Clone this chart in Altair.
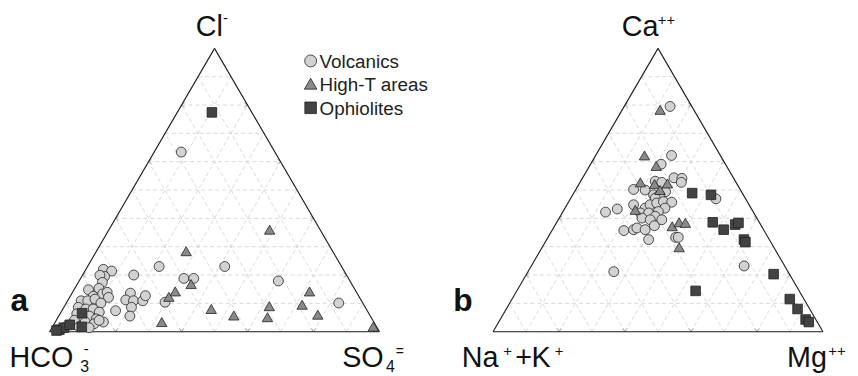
import altair as alt
import pandas as pd

# ---------------- data (percent) ----------------
groups = ["Volcanics", "High-T areas", "Ophiolites"]

# Panel a (anions): Cl- top, SO4= right, HCO3- left (= 100 - Cl - SO4)
a_volc_cl = [63.4, 23.0, 23.0, 17.9, 20.0, 18.8, 18.8, 10.4, 10.1,
             13.6, 11.2, 10.9, 8.6, 5.5, 10.9, 12.7, 7.4,
             22.0, 21.4, 19.5, 19.9, 17.4, 14.8, 15.3, 12.5, 13.3, 13.9, 12.1,
             10.9, 10.9, 11.5, 10.1, 8.6, 8.0, 8.0, 6.9, 6.3, 5.1, 5.5, 4.5,
             3.4, 4.0, 3.4, 2.8, 4.0, 2.4, 1.7, 1.4, 1.7]
a_volc_so4 = [8.2, 21.7, 41.6, 60.4, 15.5, 31.3, 34.3, 29.8, 82.6,
              17.7, 17.5, 20.0, 20.5, 21.6, 22.8, 22.7, 16.3,
              5.3, 8.1, 6.9, 5.3, 7.3, 4.4, 7.3, 7.0, 9.4, 10.5, 11.8,
              4.1, 6.1, 8.0, 10.5, 4.4, 7.0, 9.2, 11.6, 5.1, 7.5, 9.3, 11.9,
              14.6, 5.5, 9.1, 12.1, 13.0, 4.8, 8.1, 11.3, 4.0]
a_high_cl = [36.0, 28.4, 16.8, 14.2, 12.3, 3.4, 8.0, 5.7, 9.0, 5.1, 14.2, 9.5, 6.0, 1.8]
a_high_so4 = [48.7, 27.2, 34.5, 31.0, 30.0, 32.3, 45.0, 53.0, 62.1, 63.5, 71.7, 71.8, 78.3, 97.2]
a_ophi_cl = [77.4, 6.5, 0.7, 1.4, 2.4, 1.7, 0.4]
a_ophi_so4 = [10.5, 6.6, 2.6, 3.6, 4.9, 8.9, 1.9]

# Panel b (cations): Ca++ top, Mg++ right, Na+ + K+ left (= 100 - Ca - Mg)
b_volc_ca = [79.5, 62.2, 59.1, 54.3, 54.1, 52.7, 53.1, 52.7, 50.2, 50.0,
             49.4, 48.3, 48.3, 47.1, 42.2, 43.3, 44.8, 43.6, 44.8, 45.4,
             45.9, 45.7, 43.6, 41.9, 41.9, 42.4, 40.7, 40.1, 39.5, 39.5,
             35.7, 36.0, 36.6, 36.0, 37.4, 32.5, 33.3, 33.3, 21.2, 46.9, 23.2]
b_volc_mg = [13.9, 23.0, 21.4, 27.7, 30.2, 30.7, 22.6, 24.8, 17.5, 21.1,
             27.6, 24.5, 26.3, 25.6, 13.0, 16.0, 20.2, 24.3, 25.2, 26.9,
             28.7, 31.3, 30.3, 23.7, 26.2, 28.9, 28.8, 25.1, 27.9, 31.4,
             21.8, 24.6, 25.3, 28.1, 30.2, 30.9, 38.7, 39.5, 26.0, 44.1, 64.5]
b_high_ca = [78.3, 62.2, 58.5, 52.7, 52.1, 52.3, 50.0, 43.0, 37.2, 38.6, 38.4, 29.8]
b_high_mg = [11.5, 14.8, 20.2, 18.3, 22.9, 26.7, 25.6, 21.6, 35.7, 37.1, 39.1, 41.5]
b_ophi_ca = [48.9, 48.3, 38.6, 36.0, 37.8, 38.4, 32.5, 31.6, 20.3, 14.4, 11.5, 8.0, 4.3, 3.4]
b_ophi_mg = [35.9, 41.9, 47.3, 51.9, 54.5, 55.2, 59.8, 60.7, 74.9, 54.2, 84.2, 88.3, 92.6, 94.0]

grid_fracs = [0.1, 0.2, 0.3, 0.4, 0.5, 0.6, 0.7, 0.8, 0.9]
tick_fracs = [0.2, 0.4, 0.6, 0.8]

# ---------------- layout ----------------
W, H = 850, 368
XMIN, XMAX = -0.12613, 2.42643
YMIN, YMAX = -0.15035, 1.13636
OFFSETS = [0.0, 1.3444]          # horizontal position of panel a and panel b
FONT = "Liberation Sans"

xs = alt.Scale(domain=[XMIN, XMAX], nice=False, zero=False)
ys = alt.Scale(domain=[YMIN, YMAX], nice=False, zero=False)


def tern(top, right, off):
    """ternary (top %, right %) -> plot coordinates"""
    return pd.DataFrame({
        "x": [off + (r + t / 2.0) / 100.0 for t, r in zip(top, right)],
        "y": [t / 100.0 for t in top],
    })


# grid segments
rows = []
for off in OFFSETS:
    for f in grid_fracs:
        rows.append(dict(x=off + f / 2, y=f, x2=off + 1 - f / 2, y2=f))
        rows.append(dict(x=off + f, y=0, x2=off + f + (1 - f) / 2, y2=1 - f))
        rows.append(dict(x=off + 1 - f, y=0, x2=off + (1 - f) / 2, y2=1 - f))
grid_df = pd.DataFrame(rows)

edge_rows = []
for off in OFFSETS:
    edge_rows += [dict(x=off, y=0, x2=off + 1, y2=0),
                  dict(x=off, y=0, x2=off + 0.5, y2=1),
                  dict(x=off + 1, y=0, x2=off + 0.5, y2=1)]
edge_df = pd.DataFrame(edge_rows)

tick_rows = []
for off in OFFSETS:
    for f in tick_fracs:
        tick_rows.append(dict(x=off + f / 2, y=f, ang=180))
        tick_rows.append(dict(x=off + 1 - f / 2, y=f, ang=0))
        tick_rows.append(dict(x=off + f, y=0, ang=90))
tick_df = pd.DataFrame(tick_rows)


def seg(df, **kw):
    return alt.Chart(df).mark_rule(**kw).encode(
        x=alt.X("x:Q", scale=xs, axis=None), y=alt.Y("y:Q", scale=ys, axis=None),
        x2="x2:Q", y2="y2:Q")


grid = seg(grid_df, color="#cfcfcf", strokeWidth=0.8, strokeDash=[4, 3])
edges = seg(edge_df, color="#1a1a1a", strokeWidth=1.1)
ticks = alt.Chart(tick_df).mark_point(
    shape="M-1,-0.75L0,0L-1,0.75", filled=False, color="#777", strokeWidth=0.9, size=40
).encode(x=alt.X("x:Q", scale=xs, axis=None), y=alt.Y("y:Q", scale=ys, axis=None),
         angle=alt.Angle("ang:Q", scale=None))

STY = {
    "Volcanics": dict(shape="circle", fill="#d2d2d2", size=100),
    "High-T areas": dict(shape="triangle-up", fill="#8a8a8a", size=110),
    "Ophiolites": dict(shape="square", fill="#434343", size=94),
}


def pts(df, g):
    s = STY[g]
    return alt.Chart(df).mark_point(
        shape=s["shape"], filled=True, fill=s["fill"], stroke="#222", strokeWidth=0.8,
        size=s["size"], opacity=1
    ).encode(x=alt.X("x:Q", scale=xs, axis=None), y=alt.Y("y:Q", scale=ys, axis=None))


data_layers = []
for (top_a, right_a, top_b, right_b, g) in [
    (a_volc_cl, a_volc_so4, b_volc_ca, b_volc_mg, "Volcanics"),
    (a_high_cl, a_high_so4, b_high_ca, b_high_mg, "High-T areas"),
    (a_ophi_cl, a_ophi_so4, b_ophi_ca, b_ophi_mg, "Ophiolites"),
]:
    data_layers.append(pts(tern(top_a, right_a, OFFSETS[0]), g))
    data_layers.append(pts(tern(top_b, right_b, OFFSETS[1]), g))

# legend (pixel positions)
leg_y = [51.7, 74.7, 99.0]
leg_layers = []
for g, yy in zip(groups, leg_y):
    s = STY[g]
    leg_layers.append(
        alt.Chart(pd.DataFrame({"px": [305.5], "py": [yy]})).mark_point(
            shape=s["shape"], filled=True, fill=s["fill"], stroke="#222", strokeWidth=0.8,
            size=s["size"] * 1.45, opacity=1
        ).encode(x=alt.X("px:Q", scale=None), y=alt.Y("py:Q", scale=None)))
leg_text = pd.DataFrame({"t": groups, "px": [314.5] * 3, "py": [58.5, 82, 106]})
leg_layers.append(alt.Chart(leg_text).mark_text(
    align="left", baseline="alphabetic", font=FONT, fontSize=19, color="#222"
).encode(x=alt.X("px:Q", scale=None), y=alt.Y("py:Q", scale=None), text="t:N"))

# vertex labels (with sub/superscripts as separate text pieces)
lab = pd.DataFrame([
    ("Cl", 189.5, 26.5, 29), ("-", 217, 13.3, 15),
    ("Ca", 619.5, 26.5, 29), ("++", 656, 15.6, 15),
    ("HCO", 1.5, 361, 29), ("3", 73, 365.5, 16), ("-", 76.5, 347.7, 15),
    ("SO", 337.3, 361, 29), ("4", 381.5, 365.5, 16), ("=", 391.5, 350, 14),
    ("Na", 458, 361, 29), ("+", 500, 350, 15), ("+", 512, 361, 29),
    ("K", 528.5, 361, 29), ("+", 552, 350, 15),
    ("Mg", 786.5, 361, 29), ("++", 828, 350, 15),
], columns=["t", "px", "py", "fs"])
labels = alt.Chart(lab).mark_text(
    align="left", baseline="alphabetic", font=FONT, color="#111"
).encode(x=alt.X("px:Q", scale=None), y=alt.Y("py:Q", scale=None),
         text="t:N", size=alt.Size("fs:Q", scale=None))

panel_lab = pd.DataFrame({"t": ["a", "b"], "px": [2.5, 449.5], "py": [304, 303.7]})
panel_labels = alt.Chart(panel_lab).mark_text(
    align="left", baseline="alphabetic", font=FONT, fontSize=32, fontWeight="bold", color="#111"
).encode(x=alt.X("px:Q", scale=None), y=alt.Y("py:Q", scale=None), text="t:N")

chart = alt.layer(grid, ticks, edges, *data_layers, *leg_layers, labels, panel_labels).properties(
    width=W, height=H, padding=0, autosize=alt.AutoSizeParams(type="none"), background="white"
).configure_view(stroke=None)

chart.save("out.html", embed_options={"renderer": "svg", "actions": False})
